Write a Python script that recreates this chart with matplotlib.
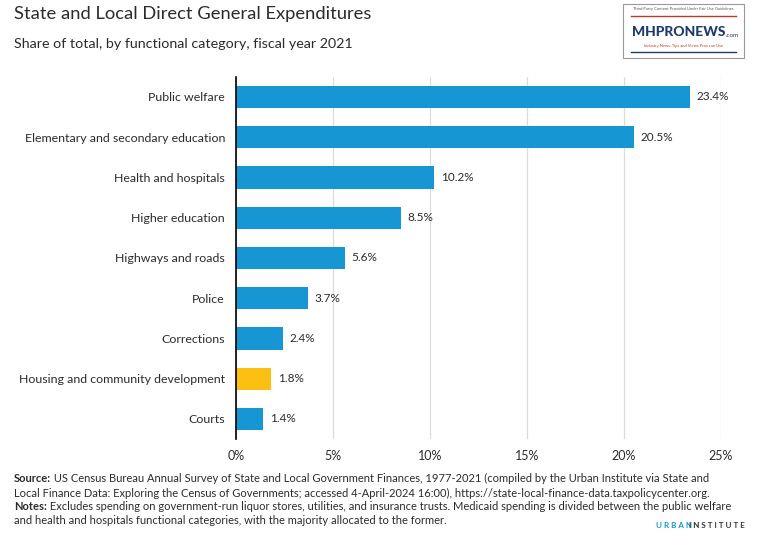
import matplotlib.pyplot as plt
import matplotlib.patches as patches

plt.rcParams['font.family'] = ['Lato', 'DejaVu Sans']

categories = [
    "Public welfare",
    "Elementary and secondary education",
    "Health and hospitals",
    "Higher education",
    "Highways and roads",
    "Police",
    "Corrections",
    "Housing and community development",
    "Courts",
]
shares = [23.4, 20.5, 10.2, 8.5, 5.6, 3.7, 2.4, 1.8, 1.4]
highlight = "Housing and community development"
xticks = [0, 5, 10, 15, 20, 25]

blue = '#1696D2'
yellow = '#FDBF11'
text_col = '#2b2b2b'

fig = plt.figure(figsize=(7.59, 5.53), dpi=100)
ax = fig.add_axes([0.311, 0.206, 0.639, 0.655])

colors = [yellow if c == highlight else blue for c in categories]
ypos = list(range(len(categories)))
ax.barh(ypos, shares, height=0.55, color=colors, zorder=3)

for y, v in zip(ypos, shares):
    ax.text(v + 0.35, y, f"{v}%", va='center', ha='left', fontsize=8.5, color=text_col)

ax.set_xlim(0, 25)
ax.set_ylim(8.5, -0.5)
ax.set_yticks(ypos)
ax.set_yticklabels(categories, fontsize=8.9, color=text_col)
ax.set_xticks(xticks)
ax.set_xticklabels([f"{t}%" for t in xticks], fontsize=9, color=text_col)
ax.tick_params(axis='both', length=0, pad=8)
ax.grid(axis='x', color='#dcdcdc', lw=0.9, zorder=0)
for s in ['top', 'right', 'bottom']:
    ax.spines[s].set_visible(False)
ax.spines['left'].set_color('black')
ax.spines['left'].set_linewidth(1.2)
ax.spines['left'].set_zorder(4)

# titles
fig.text(14 / 759, 1 - 14 / 553, "State and Local Direct General Expenditures",
         fontsize=13.2, color=text_col, va='center', ha='left')
fig.text(14 / 759, 1 - 44 / 553, "Share of total, by functional category, fiscal year 2021",
         fontsize=10.3, color=text_col, va='center', ha='left')

# watermark logo (approximation)
lx0, ly0, lw, lh = 623 / 759, 1 - 58 / 553, 121 / 759, 54 / 553
fig.patches.append(patches.Rectangle((lx0, ly0), lw, lh, transform=fig.transFigure,
                                     fc='white', ec='#999999', lw=0.8))
fig.text(lx0 + lw / 2, ly0 + lh - 5 / 553, "Third Party Content Provided Under Fair Use Guidelines",
         fontsize=3, color='#555555', ha='center', va='center')
fig.lines.append(plt.Line2D([lx0 + 0.01, lx0 + lw - 0.01], [ly0 + lh - 12 / 553] * 2,
                            transform=fig.transFigure, color='#c0392b', lw=1))
fig.text(lx0 + lw / 2 - 0.006, ly0 + lh / 2 - 0.002, "MHPRONEWS", fontsize=10, fontweight='black',
         color='#1f3a6e', ha='center', va='center')
fig.text(lx0 + lw - 0.024, ly0 + lh / 2 - 0.008, ".com", fontsize=4.5, color='#1f3a6e',
         ha='left', va='center')
fig.text(lx0 + lw / 2, ly0 + 12 / 553, "Industry News, Tips and Views Pros can Use",
         fontsize=3, color='#c0392b', ha='center', va='center')
fig.lines.append(plt.Line2D([lx0 + 0.01, lx0 + lw - 0.01], [ly0 + 6 / 553] * 2,
                            transform=fig.transFigure, color='#1f3a6e', lw=1))

# source / notes: (bold lead, rest, y pixel)
src_lines = [
    ("Source:", " US Census Bureau Annual Survey of State and Local Government Finances, 1977-2021 (compiled by the Urban Institute via State and", 478),
    ("", "Local Finance Data: Exploring the Census of Governments; accessed 4-April-2024 16:00), https://state-local-finance-data.taxpolicycenter.org.", 493),
    ("Notes:", " Excludes spending on government-run liquor stores, utilities, and insurance trusts. Medicaid spending is divided between the public welfare", 507),
    ("", "and health and hospitals functional categories, with the majority allocated to the former.", 521),
]
renderer = fig.canvas.get_renderer()
for lead, rest, yp in src_lines:
    x = 14 / 759
    if lead:
        t = fig.text(x, 1 - yp / 553, lead, fontsize=8.0, fontweight='bold', color=text_col,
                     va='center', ha='left')
        bb = t.get_window_extent(renderer=renderer)
        x = bb.x1 / fig.bbox.width
    fig.text(x, 1 - yp / 553, rest, fontsize=8.0, color=text_col, va='center', ha='left')

fig.text(656 / 759, 1 - 526 / 553, "U R B A N", fontsize=5.8, fontweight='bold', color=blue,
         va='center', ha='left')
fig.text(689 / 759, 1 - 526 / 553, "I N S T I T U T E", fontsize=5.8, fontweight='bold', color='#333333',
         va='center', ha='left')

fig.savefig('out.png', dpi=100)
